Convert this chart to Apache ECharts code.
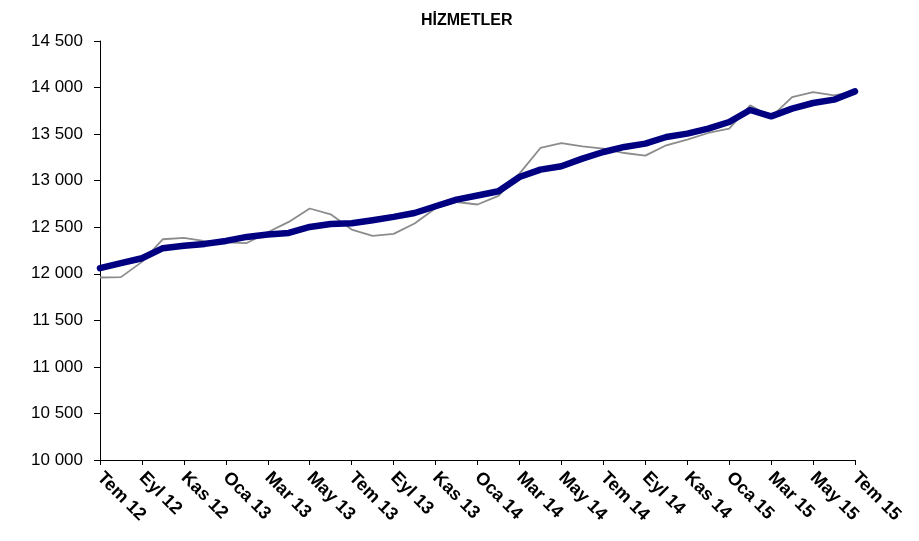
<!DOCTYPE html>
<html>
<head>
<meta charset="utf-8">
<script src="https://cdn.jsdelivr.net/npm/echarts@6/dist/echarts.min.js"></script>
<style>
html,body{margin:0;padding:0;background:#fff;}
#chart{width:919px;height:541px;}
</style>
</head>
<body>
<div id="chart"></div>
<script>
var titleText = 'HİZMETLER';
var categories = ['Tem 12','Ağu 12','Eyl 12','Eki 12','Kas 12','Ara 12',
  'Oca 13','Şub 13','Mar 13','Nis 13','May 13','Haz 13',
  'Tem 13','Ağu 13','Eyl 13','Eki 13','Kas 13','Ara 13',
  'Oca 14','Şub 14','Mar 14','Nis 14','May 14','Haz 14',
  'Tem 14','Ağu 14','Eyl 14','Eki 14','Kas 14','Ara 14',
  'Oca 15','Şub 15','Mar 15','Nis 15','May 15','Haz 15','Tem 15'];
var actualValues = [11960,11964,12128,12371,12385,12350,
  12338,12330,12446,12557,12701,12639,
  12475,12407,12428,12540,12704,12771,
  12744,12836,13076,13351,13404,13369,
  13344,13297,13269,13380,13441,13512,
  13559,13809,13683,13898,13952,13916,13960];
var trendValues = [12060,12114,12167,12275,12300,12321,
  12353,12396,12422,12439,12503,12535,
  12543,12575,12611,12653,12725,12797,
  12840,12886,13040,13119,13155,13237,
  13308,13362,13398,13469,13505,13559,
  13630,13759,13691,13774,13834,13870,13959];
var yMin = 10000, yMax = 14500, yStep = 500;

function fmt(v){
  var s = String(Math.round(v));
  return s.replace(/\B(?=(\d{3})+(?!\d))/g, ' ');
}

var chart = echarts.init(document.getElementById('chart'), null, {renderer:'canvas'});
chart.setOption({
  animation:false,
  backgroundColor:'#ffffff',
  textStyle:{fontFamily:'Liberation Sans, Arial, sans-serif'},
  title:{
    text:titleText,
    left:416, top:8,
    textStyle:{fontFamily:'Liberation Sans, Arial, sans-serif',fontWeight:'bold',fontSize:16,color:'#000'}
  },
  grid:{left:100,right:64,top:41,bottom:81,containLabel:false},
  xAxis:{
    type:'category',
    data:categories,
    boundaryGap:false,
    axisLine:{lineStyle:{color:'#000',width:1}},
    axisTick:{show:true,interval:1,length:5,lineStyle:{color:'#000'}},
    axisLabel:{
      interval:1,rotate:-45,margin:15,
      color:'#000',fontWeight:'bold',fontSize:18,
      fontFamily:'Liberation Sans, Arial, sans-serif'
    },
    splitLine:{show:false}
  },
  yAxis:{
    type:'value',
    min:yMin,max:yMax,interval:yStep,
    axisLine:{show:true,lineStyle:{color:'#000',width:1}},
    axisTick:{show:true,length:6,lineStyle:{color:'#000'}},
    axisLabel:{
      color:'#000',fontSize:17,margin:17,
      fontFamily:'Liberation Sans, Arial, sans-serif',
      formatter:fmt
    },
    splitLine:{show:false}
  },
  series:[
    {
      type:'line',data:actualValues,showSymbol:false,symbol:'none',
      lineStyle:{color:'#8c8c8c',width:1.8},
      z:2
    },
    {
      type:'line',data:trendValues,showSymbol:false,symbol:'none',
      lineStyle:{color:'#000080',width:6.5,cap:'round',join:'round'},
      z:3
    }
  ]
});
</script>
</body>
</html>
